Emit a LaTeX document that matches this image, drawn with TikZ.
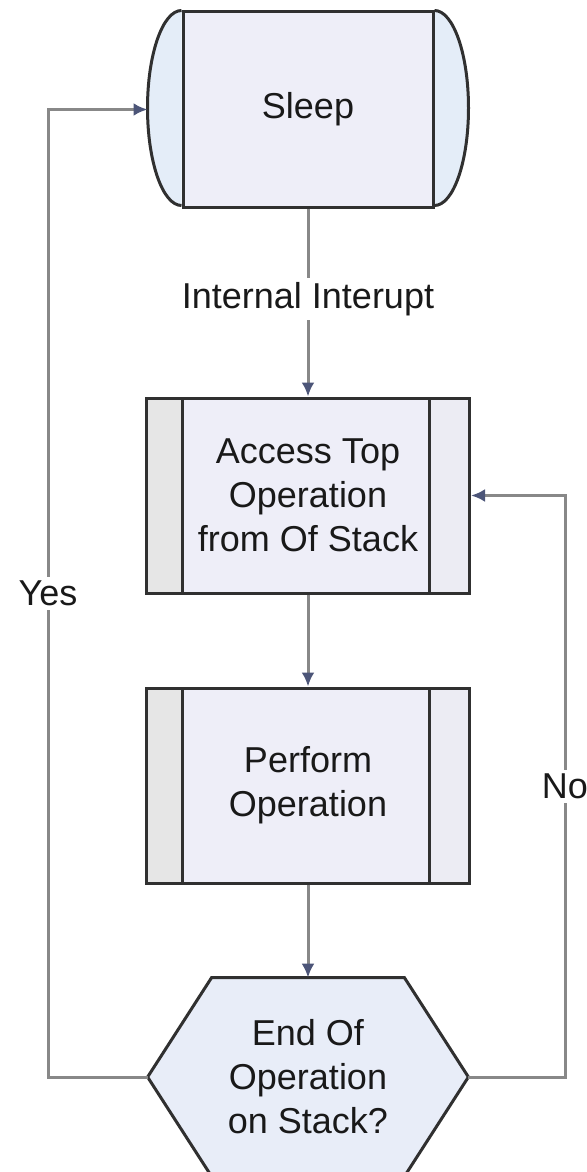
\documentclass[tikz,border=0pt]{standalone}
\usepackage{fontspec}
\setmainfont{Liberation Sans}
\usetikzlibrary{arrows.meta,backgrounds}

\definecolor{boxfill}{HTML}{EEEEF8}
\definecolor{capfill}{HTML}{E4EDF8}
\definecolor{sidefill}{HTML}{E6E6E6}
\definecolor{edgecol}{HTML}{303030}
\definecolor{wirecol}{HTML}{888888}
\definecolor{tipcol}{HTML}{4C5578}

\begin{document}
\begin{tikzpicture}[x=0.5pt, y=-0.5pt, % <--- 坐标单位按像素来写，y 轴向下
    font=\fontsize{18}{22}\selectfont,
    every node/.style={text=black!90},
    wire/.style={draw=wirecol, line width=1.5pt},
    flow/.style={wire, -{Latex[length=7pt,width=6.5pt,color=tipcol]}},
    lbl/.style={fill=white, inner sep=2pt},
    sleepbox/.style={draw=edgecol, line width=1.5pt, fill=boxfill,
        minimum width=125pt, minimum height=97.5pt, inner sep=0pt},
    procbox/.style={draw=edgecol, line width=1.5pt, fill=boxfill,
        minimum width=161.5pt, minimum height=97.5pt, inner sep=0pt, align=center,
        path picture={
            \fill[sidefill] (path picture bounding box.north west)
                rectangle ([xshift=18pt]path picture bounding box.south west);
            \fill[boxfill!70!sidefill] (path picture bounding box.north east)
                rectangle ([xshift=-20pt]path picture bounding box.south east);
            \draw[edgecol, line width=1.5pt]
                ([xshift=18pt]path picture bounding box.north west)
                -- ([xshift=18pt]path picture bounding box.south west);
            \draw[edgecol, line width=1.5pt]
                ([xshift=-20pt]path picture bounding box.north east)
                -- ([xshift=-20pt]path picture bounding box.south east);
        }},
    checkbox/.style={minimum width=160pt, minimum height=99pt, inner sep=0pt, align=center}]

    % --- 定义变量 ---
    % 所有方框的中心都在同一条竖线上
    \def\midx{308}

    % 固定画面大小（与原图一样 587 x 1172）
    \useasboundingbox (0,0) rectangle (587,1172);

    % --- 1. 绘制各个方框 ---
    % (a) 最上面的 "Sleep"，两侧再补上弧形
    \node[sleepbox] (sleep) at (\midx, 109.5) {Sleep};
    \begin{scope}[on background layer]
        \draw[edgecol, fill=capfill, line width=1.5pt] (sleep.north west)
            arc[start angle=90, end angle=270, x radius=17pt, y radius=48.75pt];
        \draw[edgecol, fill=capfill, line width=1.5pt] (sleep.north east)
            arc[start angle=90, end angle=-90, x radius=17pt, y radius=48.75pt];
    \end{scope}

    % (b) 两个带侧边的处理框
    \node[procbox] (access) at (\midx, 495.5) {Access Top\\Operation\\from Of Stack};
    \node[procbox] (perform) at (\midx, 785.5) {Perform\\Operation};

    % (c) 最下面的六边形判断框
    \node[checkbox] (check) at (\midx, 1077) {End Of\\Operation\\on Stack?};
    \begin{scope}[on background layer]
        \draw[edgecol, fill=capfill!60!boxfill, line width=1.5pt] (check.west)
            -- ([xshift=32pt]check.north west) -- ([xshift=-32pt]check.north east)
            -- (check.east)
            -- ([xshift=-32pt]check.south east) -- ([xshift=32pt]check.south west)
            -- cycle;
    \end{scope}

    % --- 2. 竖直方向的连线 ---
    \draw[flow] (sleep.south) -- node[lbl, pos=0.48] {Internal Interupt} (access.north);
    \draw[flow] (access.south) -- (perform.north);
    \draw[flow] (perform.south) -- (check.north);

    % --- 3. 两侧的回路 ---
    % 左边 "Yes" 回到 Sleep 的弧形外沿
    \coordinate (sleepin) at ([xshift=-17pt]sleep.west);
    \coordinate (yesturn) at (48, 1077);
    \draw[flow] (check.west) -- (yesturn) |- node[lbl, pos=0.25] {Yes} (sleepin);

    % 右边 "No" 回到 Access 框
    \coordinate (noturn) at (565, 1077);
    \draw[flow] (check.east) -- (noturn) |- node[lbl, pos=0.25] {No} (access.east);

\end{tikzpicture}
\end{document}
